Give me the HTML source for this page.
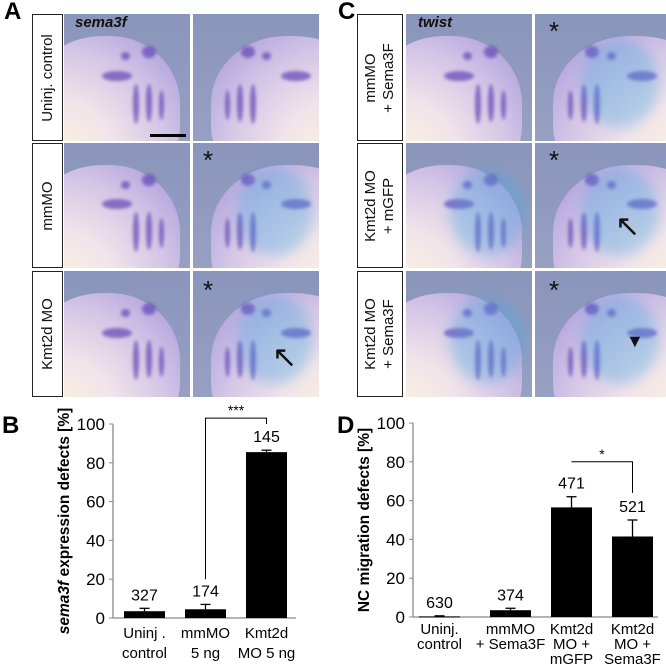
<!DOCTYPE html>
<html><head><meta charset="utf-8"><style>
body{margin:0;width:666px;height:671px;background:#fff;position:relative;overflow:hidden;font-family:"Liberation Sans",sans-serif}
.abs{position:absolute}
.lab{position:absolute;border:1.5px solid #222;box-sizing:border-box;background:#fff}
.lab span{position:absolute;left:50%;top:50%;transform:translate(-50%,-50%) rotate(-90deg);white-space:nowrap;font-size:15px;text-align:center;line-height:18px;color:#111}
.ph{position:absolute;overflow:hidden;background:linear-gradient(180deg,#8a95bb,#97a0c2)}
.emb{position:absolute;border-radius:50% 45% 40% 50%;background:radial-gradient(ellipse at 20% 85%,#fdf4dc 0%,#f1e4ea 35%,#d2c4e6 65%,#b0a2dc 90%)}
.spot{position:absolute;border-radius:50%;background:#6a4cb8;opacity:.75;filter:blur(1.5px)}
.blue{position:absolute;border-radius:50%;background:#48a8e0;opacity:.35;filter:blur(6px)}
.big{position:absolute;font-weight:bold;font-size:24px;color:#000}
</style></head><body>
<div class="big" style="left:4px;top:-2px">A</div>
<div class="big" style="left:338px;top:-2px">C</div>
<div class="big" style="left:2px;top:412px">B</div>
<div class="big" style="left:337px;top:412px">D</div>
<div id="photos"></div>
<svg id="chartB" class="abs" style="left:0;top:390px" width="333" height="281"></svg>
<svg id="chartD" class="abs" style="left:333px;top:390px" width="333" height="281"></svg>
<script>
const P=document.getElementById('photos');
const rows=[[14,127],[143,125],[271,126]];
function lab(x,w,r,html,name){const d=document.createElement('div');d.className='lab';


d.style.cssText=`left:${x}px;top:${rows[r][0]}px;width:${w}px;height:${rows[r][1]}px`;d.innerHTML='<span>'+html+'</span>';P.appendChild(d);}
function photo(x,w,r,flip,blue,name){const d=document.createElement('div');d.className='ph';


d.style.cssText=`left:${x}px;top:${rows[r][0]}px;width:${w}px;height:${rows[r][1]}px`;
const e=document.createElement('div');e.className='emb';
e.style.cssText=flip?`left:18px;top:22px;width:${w+40}px;height:150px;border-radius:45% 50% 50% 40%;background:radial-gradient(ellipse at 80% 85%,#fdf4dc 0%,#f1e4ea 35%,#d2c4e6 65%,#b0a2dc 90%)`:`left:-40px;top:22px;width:${w+30}px;height:150px`;
d.appendChild(e);
const sp=[[0.62,0.25,14,12],[0.45,0.3,9,8],[0.55,0.55,6,40],[0.65,0.55,6,38],[0.75,0.6,5,30],[0.3,0.45,30,10]];
sp.forEach(s=>{const q=document.createElement('div');q.className='spot';let cx=flip?1-s[0]:s[0];
q.style.cssText=`left:${cx*w}px;top:${s[1]*rows[r][1]}px;width:${s[2]}px;height:${s[3]}px`;d.appendChild(q);});
if(blue){const b=document.createElement('div');b.className='blue';b.style.cssText=`left:${w*0.35}px;top:${rows[r][1]*0.2}px;width:${w*0.6}px;height:${rows[r][1]*0.7}px`;d.appendChild(b);}
P.appendChild(d);}
const labsA=['Uninj. control','mmMO','Kmt2d MO'];
const labsC=['mmMO<br>+ Sema3F','Kmt2d MO<br>+ mGFP','Kmt2d MO<br>+ Sema3F'];
for(let r=0;r<3;r++){
 lab(32,31,r,labsA[r],'label-a-row'+(r+1));
 photo(64,126,r,false,false,'photo-a-left-'+(r+1));
 photo(193,126,r,true,r>0,'photo-a-right-'+(r+1));
 lab(357,46,r,labsC[r],'label-c-row'+(r+1));
 photo(406,126,r,false,r>0,'photo-c-left-'+(r+1));
 photo(535,131,r,true,true,'photo-c-right-'+(r+1));
}
function txt(t,x,y,st,name){const d=document.createElement('div');d.className='abs';


d.style.cssText=`left:${x}px;top:${y}px;${st}`;d.innerHTML=t;document.body.appendChild(d);}
txt('sema3f',75,14,'font:italic bold 15px "Liberation Sans";color:#111','gene-label-sema3f');
txt('twist',418,14,'font:italic bold 15px "Liberation Sans";color:#111','gene-label-twist');
txt('',150,134,'width:36px;height:3px;background:#000','scale-bar');
[[203,147],[203,277],[549,18],[549,147],[549,277]].forEach((p,i)=>txt('*',p[0],p[1],'font-size:26px;color:#111;line-height:1','asterisk-'+(i+1)));
txt('&#8598;',272,343,'font-size:30px;color:#111;line-height:1','arrow-a');
txt('&#8598;',615,212,'font-size:30px;color:#111;line-height:1','arrow-c');
txt('&#9660;',626,332,'font-size:18px;color:#111;line-height:1','arrowhead-c');

const catsB=[['Uninj .','control'],['mmMO','5 ng'],['Kmt2d','MO 5 ng']];
const valsB=[3.5,4.5,85.5];
const errB=[5,7,86.5];
const nB=['327','174','145'];
const catsD=[['Uninj.','control'],['mmMO','+ Sema3F'],['Kmt2d','MO +','mGFP'],['Kmt2d','MO +','Sema3F']];
const valsD=[0.3,3.5,56.5,41.5];
const errD=[0.6,4.5,62,50];
const nD=['630','374','471','521'];
const ticks=[0,20,40,60,80,100];
const NS='http://www.w3.org/2000/svg';
function el(svg,tag,a,name){const e=document.createElementNS(NS,tag);for(const k in a)e.setAttribute(k,a[k]);


svg.appendChild(e);return e;}
function chart(id,cats,vals,errs,ns,ax,xEnd,y0,y100,bx,bw,ytitle,sig,st0,lh){
 const s=document.getElementById(id);const Y=v=>y0-(y0-y100)*v/100;
 el(s,'line',{x1:ax,y1:y100,x2:ax,y2:y0,stroke:'#888','stroke-width':1.3},'y-axis');
 el(s,'line',{x1:ax,y1:y0,x2:xEnd,y2:y0,stroke:'#888','stroke-width':1.3},'x-axis');
 ticks.forEach(t=>{el(s,'line',{x1:ax-4,y1:Y(t),x2:ax,y2:Y(t),stroke:'#888'},'y-tick');
  const tx=el(s,'text',{x:ax-8,y:Y(t)+6,'text-anchor':'end','font-size':17,'font-family':'Liberation Sans'},'y-tick-label');tx.textContent=t;});
 vals.forEach((v,i)=>{const x=bx[i];
  el(s,'line',{x1:x+bw/2,y1:Y(errs[i]),x2:x+bw/2,y2:Y(v),stroke:'#000','stroke-width':1.3},'error-bar');
  el(s,'line',{x1:x+bw/2-5,y1:Y(errs[i]),x2:x+bw/2+5,y2:Y(errs[i]),stroke:'#000','stroke-width':1.3},'error-cap');
  el(s,'rect',{x:x,y:Y(v),width:bw,height:Math.max(1,Y(0)-Y(v)),fill:'#000'},'bar-'+(i+1));
  const n=el(s,'text',{x:x+bw/2,y:Y(errs[i])-8,'text-anchor':'middle','font-size':16,'font-family':'Liberation Sans'},'n-label');n.textContent=ns[i];
  cats[i].forEach((c,j)=>{const t=el(s,'text',{x:x+bw/2,y:y0+st0+j*lh,'text-anchor':'middle','font-size':15,'font-family':'Liberation Sans'},'x-category-label');t.textContent=c;});
 });
 const yt=el(s,'text',{x:0,y:0,transform:`translate(${ax-44},${(y0+y100)/2}) rotate(-90)`,'text-anchor':'middle','font-size':15.5,'font-weight':'bold','font-family':'Liberation Sans'},'y-axis-title');yt.innerHTML=ytitle;
 const [a,b,top,lab]=sig;const xa=bx[a]+bw/2,xb=bx[b]+bw/2;
 el(s,'path',{d:`M${xa} ${Y(top.ya)} V${Y(top.y)} H${xb} V${Y(top.yb)}`,fill:'none',stroke:'#000','stroke-width':1},'significance-bracket');
 const st=el(s,'text',{x:(xa+xb)/2,y:Y(top.y)-3,'text-anchor':'middle','font-size':14,'font-family':'Liberation Sans'},'significance-stars');st.textContent=lab;
}
chart('chartB',catsB,valsB,errB,nB,113,296,228,34,[124,185,246],41,'<tspan font-style="italic">sema3f</tspan> expression defects [%]',[1,2,{ya:20,y:103,yb:100},'***'],20,20);
chart('chartD',catsD,valsD,errD,nD,80,325,227,33,[86,157,218,279],41,'NC migration defects [%]',[2,3,{ya:80,y:80,yb:64},'*'],17,15);
</script>
</body></html>
